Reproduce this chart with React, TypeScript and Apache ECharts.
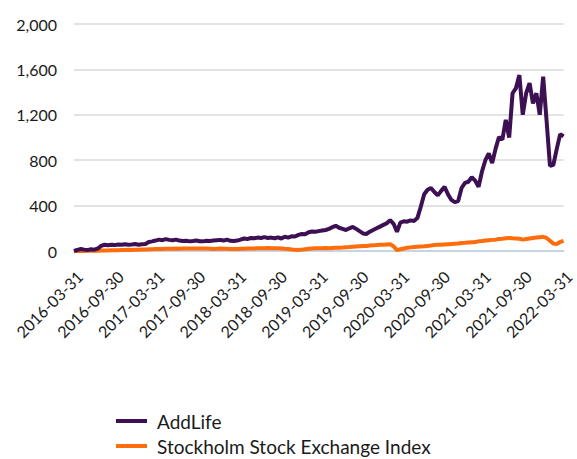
import React, { useEffect, useRef } from "react";
import * as echarts from "echarts";

// Semi-monthly observation dates: 2016-03-31, then the 15th and month-end of each month to 2022-03-31
const startYear = 2016;
const startMonth = 3;
const monthCount = 72;

function buildDates(): string[] {
  const out: string[] = [];
  const pad = (n: number) => (n < 10 ? "0" + n : "" + n);
  const lastDay = (y: number, m: number) => new Date(y, m, 0).getDate();
  out.push(`${startYear}-${pad(startMonth)}-${lastDay(startYear, startMonth)}`);
  let y = startYear;
  let m = startMonth;
  for (let k = 0; k < monthCount; k++) {
    m += 1;
    if (m > 12) {
      m = 1;
      y += 1;
    }
    out.push(`${y}-${pad(m)}-15`);
    out.push(`${y}-${pad(m)}-${pad(lastDay(y, m))}`);
  }
  return out;
}

const dates: string[] = buildDates();

const labelDates: string[] = [
  "2016-03-31", "2016-09-30", "2017-03-31", "2017-09-30", "2018-03-31",
  "2018-09-30", "2019-03-31", "2019-09-30", "2020-03-31", "2020-09-30",
  "2021-03-31", "2021-09-30", "2022-03-31",
];

const addLife: number[] = [
  0, 10, 18, 12, 8, 15, 12, 22, 45, 55, 50, 55, 52, 58, 55, 60, 56, 58, 62, 55,
  60, 62, 80, 85, 92, 100, 95, 105, 98, 95, 100, 92, 88, 90, 85, 88, 92, 86, 85, 90,
  88, 92, 95, 98, 92, 100, 90, 88, 92, 100, 110, 105, 115, 112, 118, 115, 122, 115, 118, 112,
  120, 110, 125, 118, 130, 128, 142, 150, 148, 165, 172, 170, 175, 180, 185, 195, 210, 222, 205, 195,
  185, 200, 212, 195, 175, 155, 150, 170, 185, 200, 215, 230, 245, 272, 240, 170, 250, 262, 258, 270,
  265, 290, 390, 500, 540, 555, 520, 490, 530, 565, 500, 450, 430, 440, 555, 600, 610, 650, 620, 565,
  700, 800, 860, 775, 900, 1005, 980, 1155, 1000, 1390, 1435, 1550, 1200, 1390, 1480, 1300, 1390, 1200, 1535, 1150,
  750, 760, 900, 1030, 1010,
];

const omx: number[] = [
  0, 1, 2, 1, 3, 2, 4, 3, 4, 5, 4, 6, 6,
  7, 8, 9, 10, 9, 11, 12, 13, 14, 15, 16, 17,
  18, 17, 19, 20, 19, 21, 20, 22, 21, 23, 22, 22,
  23, 21, 22, 20, 18, 19, 21, 20, 19, 18, 17, 18,
  19, 20, 22, 21, 23, 24, 25, 24, 26, 25, 24, 25,
  23, 20, 18, 14, 10, 8, 12, 16, 19, 22, 24, 25,
  24, 26, 25, 27, 29, 28, 30, 33, 35, 38, 40, 42,
  44, 45, 48, 50, 52, 55, 56, 58, 60, 40, 8, 15,
  22, 28, 32, 35, 38, 40, 42, 45, 48, 52, 55, 56,
  58, 60, 62, 64, 66, 70, 72, 75, 78, 80, 85, 88,
  92, 95, 98, 100, 105, 108, 112, 115, 112, 110, 108, 100,
  105, 110, 115, 118, 122, 125, 115, 90, 65, 62, 80, 90,
];

const seriesNames: string[] = ["AddLife", "Stockholm Stock Exchange Index"];
const seriesColors: string[] = ["#3c1053", "#ff6c0c"];

export default function App() {
  const ref = useRef<HTMLDivElement>(null);
  useEffect(() => {
    if (!ref.current) return;
    const chart = echarts.init(ref.current, undefined, { renderer: "svg" });
    const font = "Lato";
    const legendBase = {
      orient: "vertical",
      padding: 0,
      itemWidth: 31,
      itemHeight: 4,
      icon: "rect",
      textStyle: { fontFamily: font, fontSize: 19, lineHeight: 20, color: "#1a1a1a", padding: [0, 0, 0, 5] },
    };
    chart.setOption({
      animation: false,
      textStyle: { fontFamily: font },
      grid: { left: 74, right: 5, top: 24, bottom: 208, containLabel: false },
      legend: [
        { ...legendBase, left: 116, top: 411, data: [seriesNames[0]] },
        { ...legendBase, left: 116, top: 436, data: [seriesNames[1]] },
      ],
      xAxis: {
        type: "category",
        data: dates,
        boundaryGap: false,
        axisLine: { show: true, lineStyle: { color: "#c9d3e6", width: 2 } },
        axisTick: { show: false },
        splitLine: { show: false },
        axisLabel: {
          rotate: 45,
          interval: (_i: number, v: string) => labelDates.indexOf(v) >= 0,
          fontFamily: font,
          fontSize: 16,
          color: "#1a1a1a",
          margin: 17,
          verticalAlign: "top",
        },
      },
      yAxis: {
        type: "value",
        min: 0,
        max: 2000,
        interval: 400,
        axisLine: { show: false },
        axisTick: { show: false },
        splitLine: { lineStyle: { color: "#e3e3e3", width: 2 } },
        axisLabel: {
          fontFamily: font,
          fontSize: 16,
          color: "#1a1a1a",
          margin: 17,
          formatter: (v: number) => v.toLocaleString("en-US"),
        },
      },
      series: [
        {
          name: seriesNames[0],
          type: "line",
          data: addLife,
          showSymbol: false,
          symbol: "none",
          lineStyle: { color: seriesColors[0], width: 4 },
          itemStyle: { color: seriesColors[0] },
          z: 3,
        },
        {
          name: seriesNames[1],
          type: "line",
          data: omx,
          showSymbol: false,
          symbol: "none",
          lineStyle: { color: seriesColors[1], width: 4 },
          itemStyle: { color: seriesColors[1] },
          z: 2,
        },
      ],
    });
    return () => chart.dispose();
  }, []);
  return <div ref={ref} style={{ width: 577, height: 459, position: "absolute", left: 0, top: 0 }} />;
}
